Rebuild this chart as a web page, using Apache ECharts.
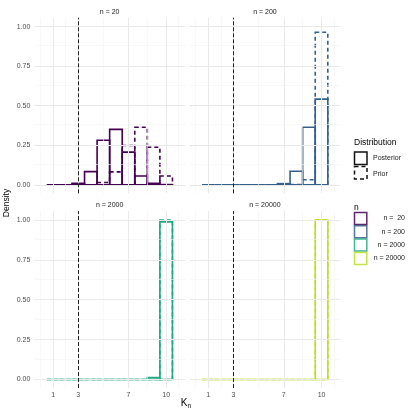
<!DOCTYPE html>
<html>
<head>
<meta charset="utf-8">
<script src="https://cdn.jsdelivr.net/npm/echarts@6/dist/echarts.min.js"></script>
<style>
  html, body { margin: 0; padding: 0; background: #fff; }
  #chart { width: 415px; height: 415px; }
</style>
</head>
<body>
<div id="chart"></div>
<script>
// Values
var kValues = [1, 2, 3, 4, 5, 6, 7, 8, 9, 10];
var panelNames = ['n = 20', 'n = 200', 'n = 2000', 'n = 20000'];
var legendNames = ['n =  20', 'n = 200', 'n = 2000', 'n = 20000'];
var panelColors = ['#440154', '#35608d', '#22a884', '#bbdf27'];

var posterior20 = [0, 0, 0.01, 0.084, 0.282, 0.351, 0.207, 0.056, 0.01, 0.002];
var prior20 = [0, 0, 0, 0, 0.015, 0.082, 0.249, 0.364, 0.238, 0.056];
var posterior200 = [0, 0, 0, 0, 0, 0, 0.008, 0.086, 0.364, 0.542];
var prior200 = [0, 0, 0, 0, 0, 0, 0, 0.003, 0.033, 0.964];
var posterior2000 = [0, 0, 0, 0, 0, 0, 0, 0, 0.012, 0.988];
var prior2000 = [0, 0, 0, 0, 0, 0, 0, 0, 0, 1.0];
var posterior20000 = [0, 0, 0, 0, 0, 0, 0, 0, 0, 1.0];
var prior20000 = [0, 0, 0, 0, 0, 0, 0, 0, 0, 1.0];

var trueK = 3;
var xBreaks = [1, 3, 7, 10];
var xMinor = [0, 2, 5, 8.5, 11];
var yBreaks = [0, 0.25, 0.5, 0.75, 1];
var yMinor = [0.125, 0.375, 0.625, 0.875];

var posteriors = [posterior20, posterior200, posterior2000, posterior20000];
var priors = [prior20, prior200, prior2000, prior20000];

var FONT = '"Liberation Sans", Arial, sans-serif';
var grids = [
  {left: 34.3, top: 17.7, width: 150.7, height: 175.6},
  {left: 189.4, top: 17.7, width: 151, height: 175.6},
  {left: 34.3, top: 211, width: 150.7, height: 177},
  {left: 189.4, top: 211, width: 151, height: 177}
];

function pairs(values) {
  return kValues.map(function (k, i) { return [k, values[i]]; });
}

function barSeries(idx, values, color, dashed) {
  return {
    type: 'custom',
    xAxisIndex: idx,
    yAxisIndex: idx,
    z: dashed ? 3 : 4,
    silent: true,
    animation: false,
    data: pairs(values),
    renderItem: function (params, api) {
      var k = api.value(0), h = api.value(1);
      var p0 = api.coord([k - 0.5, 0]);
      var p1 = api.coord([k + 0.5, h]);
      return {
        type: 'rect',
        shape: {x: p0[0], y: p1[1], width: p1[0] - p0[0], height: p0[1] - p1[1]},
        style: {fill: 'none', stroke: color, lineWidth: 1.6, lineDash: dashed ? [4, 3] : null}
      };
    }
  };
}

function lineMarks(idx, list, axis, style, z) {
  return {
    type: 'line',
    xAxisIndex: idx,
    yAxisIndex: idx,
    data: [],
    z: z,
    silent: true,
    animation: false,
    markLine: {
      silent: true,
      symbol: 'none',
      animation: false,
      label: {show: false},
      lineStyle: style,
      data: list.map(function (v) { var o = {}; o[axis] = v; return o; })
    }
  };
}

var series = [];
var xAxes = [];
var yAxes = [];
var graphics = [];

grids.forEach(function (g, i) {
  var bottom = i >= 2, left = i % 2 === 0;
  xAxes.push({
    type: 'value', gridIndex: i, min: -0.5, max: 11.5,
    axisLine: {show: false}, axisTick: {show: false}, splitLine: {show: false},
    axisLabel: {show: bottom, customValues: xBreaks, color: '#4d4d4d', fontSize: 7, fontFamily: FONT, margin: 4}
  });
  yAxes.push({
    type: 'value', gridIndex: i, min: -0.053, max: 1.056,
    axisLine: {show: false}, axisTick: {show: false}, splitLine: {show: false},
    axisLabel: {show: left, customValues: yBreaks, color: '#4d4d4d', fontSize: 7, fontFamily: FONT, margin: 4,
      formatter: function (v) { return v.toFixed(2); }}
  });
  series.push(lineMarks(i, yMinor, 'yAxis', {color: '#f3f3f3', width: 0.6, type: 'solid'}, 1));
  series.push(lineMarks(i, xMinor, 'xAxis', {color: '#f3f3f3', width: 0.6, type: 'solid'}, 1));
  series.push(lineMarks(i, yBreaks, 'yAxis', {color: '#e9e9e9', width: 1, type: 'solid'}, 1));
  series.push(lineMarks(i, xBreaks, 'xAxis', {color: '#e9e9e9', width: 1, type: 'solid'}, 1));
  series.push(barSeries(i, priors[i], panelColors[i], true));
  series.push(barSeries(i, posteriors[i], panelColors[i], false));
  series.push(lineMarks(i, [trueK], 'xAxis', {color: '#222', width: 1, type: [4, 2]}, 6));
  graphics.push({
    type: 'text', x: g.left + g.width / 2, y: g.top - 6,
    style: {text: panelNames[i], fill: '#1a1a1a', font: '7px ' + FONT, textAlign: 'center', textVerticalAlign: 'middle'}
  });
});

// axis titles
graphics.push({
  type: 'text', x: 186, y: 403,
  style: {
    rich: {k: {fontSize: 10, fontFamily: FONT, fill: '#000'}, s: {fontSize: 6.5, fontFamily: FONT, fill: '#000', padding: [6, 0, 0, 0]}},
    text: '{k|K}{s|n}', textAlign: 'center', textVerticalAlign: 'middle'
  }
});
graphics.push({
  type: 'text', x: 7, y: 203, rotation: Math.PI / 2,
  style: {text: 'Density', fill: '#000', font: '8.5px ' + FONT, textAlign: 'center', textVerticalAlign: 'middle'}
});

// legend: Distribution
graphics.push({type: 'text', x: 354, y: 143, style: {text: 'Distribution', fill: '#000', font: '8.5px ' + FONT, textVerticalAlign: 'middle'}});
graphics.push({type: 'rect', shape: {x: 354.5, y: 152, width: 12.5, height: 12.5}, style: {fill: 'none', stroke: '#111', lineWidth: 1.5}});
graphics.push({type: 'rect', shape: {x: 354.5, y: 166.5, width: 12.5, height: 12.5}, style: {fill: 'none', stroke: '#111', lineWidth: 1.5, lineDash: [4, 3]}});
graphics.push({type: 'text', x: 373, y: 158, style: {text: 'Posterior', fill: '#1a1a1a', font: '7px ' + FONT, textVerticalAlign: 'middle'}});
graphics.push({type: 'text', x: 373, y: 174, style: {text: 'Prior', fill: '#1a1a1a', font: '7px ' + FONT, textVerticalAlign: 'middle'}});

// legend: n
graphics.push({type: 'text', x: 354, y: 208, style: {text: 'n', fill: '#000', font: '8.5px ' + FONT, textVerticalAlign: 'middle'}});
legendNames.forEach(function (name, i) {
  var cy = 218.5 + i * 13.3;
  graphics.push({type: 'rect', shape: {x: 354.5, y: cy - 6, width: 12.3, height: 12}, style: {fill: 'none', stroke: panelColors[i], lineWidth: 1.5, opacity: 0.85}});
  graphics.push({type: 'text', x: 405, y: cy, style: {text: name, fill: '#1a1a1a', font: '7px ' + FONT, textAlign: 'right', textVerticalAlign: 'middle'}});
});

var chart = echarts.init(document.getElementById('chart'), null, {renderer: 'canvas'});
chart.setOption({
  backgroundColor: '#fff',
  animation: false,
  grid: grids,
  xAxis: xAxes,
  yAxis: yAxes,
  series: series,
  graphic: graphics
});
</script>
</body>
</html>
